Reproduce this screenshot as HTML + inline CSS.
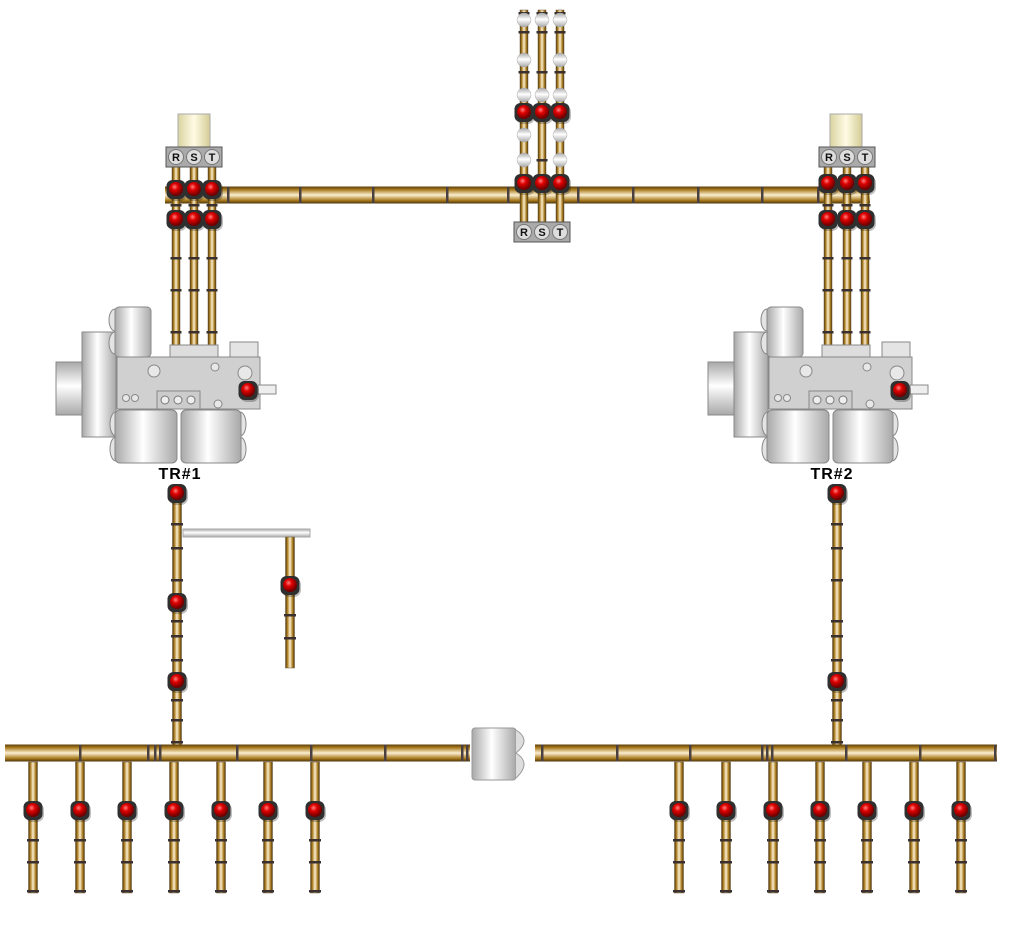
<!DOCTYPE html>
<html><head><meta charset="utf-8"><style>
html,body{margin:0;padding:0;background:#fff;width:1010px;height:929px;overflow:hidden}
svg{display:block}
text{font-family:"Liberation Sans",sans-serif}
</style></head><body>
<svg id="s" width="1010" height="929" viewBox="0 0 1010 929" xmlns="http://www.w3.org/2000/svg">
<defs>
<linearGradient id="gh" x1="0" y1="0" x2="0" y2="1">
<stop offset="0" stop-color="#5a3d0c"/><stop offset="0.18" stop-color="#a87a1c"/><stop offset="0.5" stop-color="#fbeed0"/><stop offset="0.82" stop-color="#a87a1c"/><stop offset="1" stop-color="#4a320a"/></linearGradient>
<linearGradient id="gv" x1="0" y1="0" x2="1" y2="0">
<stop offset="0" stop-color="#4a320a"/><stop offset="0.2" stop-color="#a87a1c"/><stop offset="0.5" stop-color="#fbeed0"/><stop offset="0.8" stop-color="#a87a1c"/><stop offset="1" stop-color="#4a320a"/></linearGradient>
<linearGradient id="gg" x1="0" y1="0" x2="1" y2="0">
<stop offset="0" stop-color="#a8a8a8"/><stop offset="0.45" stop-color="#ffffff"/><stop offset="1" stop-color="#a8a8a8"/></linearGradient>
<linearGradient id="ggh" x1="0" y1="0" x2="0" y2="1">
<stop offset="0" stop-color="#a8a8a8"/><stop offset="0.45" stop-color="#ffffff"/><stop offset="1" stop-color="#a8a8a8"/></linearGradient>
<linearGradient id="gc" x1="0" y1="0" x2="1" y2="0">
<stop offset="0" stop-color="#d9d3a0"/><stop offset="0.5" stop-color="#fffbe4"/><stop offset="1" stop-color="#d4cc95"/></linearGradient>
<radialGradient id="gr" cx="0.4" cy="0.35" r="0.6"><stop offset="0" stop-color="#ff8080"/><stop offset="0.4" stop-color="#e00000"/><stop offset="1" stop-color="#700000"/></radialGradient>
</defs>
<g id="pipes"></g><g id="equip"></g><g id="brk"></g>
<text x="180" y="479" font-size="16" font-weight="bold" text-anchor="middle" letter-spacing="1">TR#1</text>
<text x="832" y="479" font-size="16" font-weight="bold" text-anchor="middle" letter-spacing="1">TR#2</text>
</svg>
<script>
const NS="http://www.w3.org/2000/svg";
const P=document.getElementById('pipes'),E=document.getElementById('equip'),B=document.getElementById('brk');
function mk(par,tag,at){const e=document.createElementNS(NS,tag);for(const k in at)e.setAttribute(k,at[k]);par.appendChild(e);return e;}
function hpipe(x1,x2,y,w,joints,name){
 const g=mk(P,'g',{});
 
 
 mk(g,'rect',{x:x1,y:y-w/2,width:x2-x1,height:w,fill:'url(#gh)'});
 joints.forEach(j=>mk(g,'rect',{x:j-1,y:y-w/2,width:2.5,height:w,fill:'#4a4040'}));
}
function vpipe(x,y1,y2,w,joints,name){
 const g=mk(P,'g',{});
 
 
 mk(g,'rect',{x:x-w/2,y:y1,width:w,height:y2-y1,fill:'url(#gv)',stroke:'#6a5a40','stroke-width':0.5});
 joints.forEach(j=>mk(g,'rect',{x:x-w/2-1.5,y:j-1,width:w+3,height:2.5,fill:'#3a3030'}));
}
function breaker(x,y,name){
 const g=mk(B,'g',{});
 
 
 mk(g,'rect',{x:x-8,y:y-7,width:19,height:19,rx:7,fill:'#000',opacity:0.25});
 mk(g,'rect',{x:x-9.5,y:y-9,width:19,height:19,rx:6,fill:'#2f2f2f'});
 mk(g,'circle',{cx:x,cy:y,r:7,fill:'url(#gr)'});
}
function gball(x,y,r){mk(E,'circle',{cx:x,cy:y,r:r,fill:'url(#ggh)',stroke:'#aaa','stroke-width':0.5});}
function rst(x,y,name){
 const g=mk(E,'g',{});
 
 
 mk(g,'rect',{x:x,y:y,width:56,height:20,fill:'#aaa',stroke:'#555','stroke-width':1});
 ['R','S','T'].forEach((t,i)=>{const cx=x+10+i*18;
  mk(g,'circle',{cx:cx,cy:y+10,r:7.5,fill:'#ddd',stroke:'#777'});
  const tx=mk(g,'text',{x:cx,y:y+14,'font-size':11,'font-weight':'bold','text-anchor':'middle',fill:'#111'});tx.textContent=t;});
}
function transformer(dx,name){
 const g=mk(E,'g',{transform:`translate(${dx},0)`});
 
 
 const st={stroke:'#888','stroke-width':1};
 mk(g,'rect',Object.assign({x:56,y:362,width:28,height:53,fill:'url(#ggh)'},st));
 mk(g,'rect',Object.assign({x:82,y:332,width:34,height:105,fill:'url(#gg)'},st));
 [[115,320],[115,343]].forEach(a=>mk(g,'ellipse',Object.assign({cx:a[0],cy:a[1],rx:6,ry:11,fill:'#e4e4e4'},st)));
 mk(g,'rect',Object.assign({x:115,y:307,width:36,height:50,rx:4,fill:'url(#gg)'},st));
 mk(g,'rect',Object.assign({x:170,y:345,width:48,height:13,fill:'#ddd'},st));
 mk(g,'rect',Object.assign({x:230,y:342,width:28,height:15,fill:'#e4e4e4'},st));
 mk(g,'rect',Object.assign({x:117,y:357,width:143,height:52,fill:'#d0d0d0'},st));
 mk(g,'rect',Object.assign({x:157,y:391,width:43,height:18,fill:'#ccc'},st));
 [165,178,191].forEach(c=>mk(g,'circle',{cx:c,cy:400,r:4,fill:'#eee',stroke:'#777'}));
 [[154,371,6],[215,367,4],[245,373,7],[126,398,3.5],[135,398,3.5],[218,404,4]].forEach(a=>mk(g,'circle',{cx:a[0],cy:a[1],r:a[2],fill:'#e8e8e8',stroke:'#888'}));
 mk(g,'rect',Object.assign({x:258,y:385,width:18,height:9,fill:'#eee'},st));
 [[116,424],[116,449],[240,424],[240,449]].forEach(a=>mk(g,'ellipse',Object.assign({cx:a[0],cy:a[1],rx:6,ry:12,fill:'#e4e4e4'},st)));
 mk(g,'rect',Object.assign({x:115,y:410,width:62,height:53,rx:5,fill:'url(#gg)'},st));
 mk(g,'rect',Object.assign({x:181,y:410,width:60,height:53,rx:5,fill:'url(#gg)'},st));
}
hpipe(165,870,195,17,[228,300,373,447,508,578,633,698,762,818],'top-bus');
[176,194,212].forEach((x,i)=>vpipe(x,162,345,8,[205,258,290,332],'tr1-hv-phase-'+i));
[828,847,865].forEach((x,i)=>vpipe(x,162,345,8,[205,258,290,332],'tr2-hv-phase-'+i));
[524,542,560].forEach((x,i)=>vpipe(x,10,225,8,[13,32,72,160],'center-phase-'+i));
[[524,20],[542,20],[560,20],[524,60],[560,60],[524,95],[542,95],[560,95],[524,135],[560,135],[524,160],[560,160]].forEach(a=>gball(a[0],a[1],7));
mk(E,'rect',{x:178,y:114,width:32,height:34,fill:'url(#gc)',stroke:'#aaa'});
mk(E,'rect',{x:830,y:114,width:32,height:34,fill:'url(#gc)',stroke:'#aaa'});
rst(166,147,'tr1-rst-terminal');rst(819,147,'tr2-rst-terminal');rst(514,222,'center-rst-terminal');
transformer(0,'transformer-tr1');transformer(652,'transformer-tr2');
vpipe(177,485,745,9,[524,548,580,621,636,660,700,720,742],'tr1-lv-feeder');
vpipe(837,485,745,9,[524,548,580,621,636,660,700,720,742],'tr2-lv-feeder');
mk(P,'rect',{x:183,y:529,width:127,height:8,fill:'url(#ggh)',stroke:'#aaa'});
vpipe(290,537,668,9,[615,638],'aux-branch');
hpipe(5,470,753,17,[80,148,155,160,237,311,385,462,467],'lv-bus-left');
hpipe(535,997,753,17,[542,617,690,762,767,772,846,920,995],'lv-bus-right');
const tie=mk(E,'g',{});


mk(tie,'rect',{x:472,y:728,width:44,height:52,rx:3,fill:'url(#gg)',stroke:'#999'});
mk(tie,'path',{d:'M516 730 q16 10 0 23 q16 10 0 25',fill:'#ddd',stroke:'#999'});
const feedL=[33,80,127,174,221,268,315], feedR=[679,726,773,820,867,914,961];
feedL.concat(feedR).forEach((x,i)=>{vpipe(x,762,893,9,[840,862,891],'feeder-'+i);breaker(x,810,'feeder-breaker-'+i);});
[176,194,212].forEach((x,i)=>{breaker(x,189,'tr1-bus-breaker-'+i);breaker(x,219,'tr1-hv-breaker-'+i);});
[828,847,865].forEach((x,i)=>{breaker(x,183,'tr2-bus-breaker-'+i);breaker(x,219,'tr2-hv-breaker-'+i);});
[524,542,560].forEach((x,i)=>{breaker(x,112,'center-upper-breaker-'+i);breaker(x,183,'center-lower-breaker-'+i);});
breaker(248,390,'tr1-aux-breaker');breaker(900,390,'tr2-aux-breaker');
breaker(177,493,'tr1-lv-breaker-1');breaker(177,602,'tr1-lv-breaker-2');breaker(177,681,'tr1-lv-breaker-3');
breaker(290,585,'aux-branch-breaker');
breaker(837,493,'tr2-lv-breaker-1');breaker(837,681,'tr2-lv-breaker-2');
</script>
</body></html>
